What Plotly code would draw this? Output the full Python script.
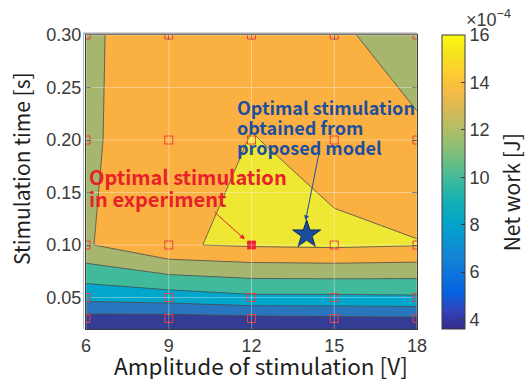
import plotly.graph_objects as go

# ---------------- data ----------------
amplitude_V = [6, 9, 12, 15, 18]
stim_time_s = [0.02, 0.03, 0.05, 0.10, 0.20, 0.30]
# net work (x1e-4 J), rows = stim_time_s, cols = amplitude_V
net_work = [
    [4.30, 4.50, 4.70, 4.80, 4.90],
    [5.27, 5.24, 5.50, 5.60, 5.74],
    [8.62, 9.00, 9.60, 9.60, 9.70],
    [13.80, 15.86, 16.20, 16.34, 16.09],
    [13.87, 14.50, 16.07, 15.37, 14.57],
    [13.82, 14.60, 15.20, 14.55, 12.50],
]
exp_amp = [6, 9, 12, 15, 18]
exp_time = [0.03, 0.05, 0.10, 0.20, 0.30]
opt_exp = (12, 0.10)
opt_model = (14, 0.11)

x_ticks = [6, 9, 12, 15, 18]
y_ticks = [0.05, 0.10, 0.15, 0.20, 0.25, 0.30]
y_ticktext = ["0.05", "0.10", "0.15", "0.20", "0.25", "0.30"]
cbar_ticks = [4, 6, 8, 10, 12, 14, 16]
levels = dict(start=4, end=16, size=2)
cmin, cmax = 3.6, 16

blue_lines = ["Optimal stimulation", "obtained from", "proposed model"]
red_lines = ["Optimal stimulation", "in experiment"]

band_colors = ["#343D95", "#343D95", "#2A76BE", "#00A6CB", "#40BA9B",
               "#A6B66F", "#FBB142", "#EEE734"]

parula = [
    (0.2081, 0.1663, 0.5292), (0.1959, 0.2645, 0.7279), (0.0117, 0.3875, 0.8820),
    (0.0498, 0.4586, 0.8641), (0.0793, 0.5200, 0.8312), (0.0343, 0.5966, 0.8199),
    (0.0228, 0.6535, 0.7768), (0.0843, 0.6928, 0.7062), (0.2178, 0.7250, 0.6193),
    (0.3953, 0.7459, 0.5244), (0.5709, 0.7485, 0.4494), (0.7184, 0.7411, 0.3905),
    (0.8507, 0.7299, 0.3360), (0.9739, 0.7314, 0.2666), (0.9880, 0.8066, 0.1794),
    (0.9589, 0.8949, 0.1132), (0.9763, 0.9831, 0.0538),
]
parula_cs = [[i / (len(parula) - 1),
              "rgb(%d,%d,%d)" % tuple(int(round(c * 255)) for c in p)]
             for i, p in enumerate(parula)]

n = len(band_colors) - 1
band_cs = [[i / n, c] for i, c in enumerate(band_colors)]

FONT = "Noto Sans CJK JP"
TICKFONT = "Liberation Sans, Arial, sans-serif"
TXT = "#1e1e1e"
TICKC = "#3a3a3a"
AX = "#3c3c3c"
BLUE = "#1F4E9E"
RED = "#E8202A"

# plot area in page pixels
PL, PR, PT, PB = 86, 417.5, 35, 329
W_PAGE, H_PAGE = 525, 379


def px(xp):
    return (xp - PL) / (PR - PL)


def py(yp):
    return (PB - yp) / (PB - PT)


fig = go.Figure()
fig.add_trace(go.Contour(
    x=amplitude_V, y=stim_time_s, z=net_work,
    autocontour=False, contours=dict(coloring="fill", **levels),
    colorscale=band_cs, showscale=False,
    line=dict(color="#4a4a4a", width=0.8, smoothing=0), hoverinfo="skip",
))
fig.add_trace(go.Scatter(
    x=[a for a in exp_amp for _ in exp_time],
    y=[t for _ in exp_amp for t in exp_time],
    mode="markers",
    marker=dict(symbol="square-open", size=8, color="#EE3B3B",
                line=dict(width=1)),
    hoverinfo="skip", showlegend=False,
))
fig.add_trace(go.Scatter(
    x=[opt_exp[0]], y=[opt_exp[1]], mode="markers",
    marker=dict(symbol="square", size=8, color=RED),
    showlegend=False, hoverinfo="skip",
))
fig.add_trace(go.Scatter(
    x=[opt_model[0]], y=[opt_model[1]], mode="markers",
    marker=dict(symbol="star", size=21, color="#1B4B9B",
                line=dict(color="#0E2A5C", width=1)),
    showlegend=False, hoverinfo="skip",
))
# colorbar (continuous parula)
fig.add_trace(go.Scatter(
    x=[opt_exp[0]], y=[opt_exp[1]], mode="markers",
    marker=dict(size=0.1, opacity=0, color=[10], colorscale=parula_cs,
                cmin=cmin, cmax=cmax, showscale=True,
                colorbar=dict(
                    x=px(443), xanchor="left", y=0.5, yanchor="middle",
                    len=1, lenmode="fraction", thickness=23,
                    outlinecolor=AX, outlinewidth=1,
                    tickvals=cbar_ticks, ticks="inside", ticklen=4,
                    tickcolor=AX, tickfont=dict(family=TICKFONT, size=18, color=TICKC),
                    xpad=0, ypad=0,
                )),
    showlegend=False, hoverinfo="skip",
))

# light grid lines over the filled contours
shapes = []
for xv in x_ticks:
    shapes.append(dict(type="line", xref="x", yref="paper", x0=xv, x1=xv,
                       y0=0, y1=1, layer="above",
                       line=dict(color="rgba(255,255,255,0.35)", width=1)))
for yv in y_ticks:
    shapes.append(dict(type="line", xref="paper", yref="y", x0=0, x1=1,
                       y0=yv, y1=yv, layer="above",
                       line=dict(color="rgba(255,255,255,0.35)", width=1)))
# light outer frame (top / left) as in the reference
shapes.append(dict(type="line", xref="paper", yref="paper", x0=px(83), x1=1,
                   y0=py(33.5), y1=py(33.5), layer="above",
                   line=dict(color="#A8A8A8", width=2)))
shapes.append(dict(type="line", xref="paper", yref="paper", x0=px(83.5), x1=px(83.5),
                   y0=0, y1=py(33.5), layer="above",
                   line=dict(color="#B8B8B8", width=1)))

axis_common = dict(showline=True, linecolor=AX, linewidth=1, mirror="ticks",
                   ticks="inside", ticklen=5, tickcolor=AX, showgrid=False,
                   zeroline=False,
                   tickfont=dict(family=TICKFONT, size=18, color=TICKC))

annotations = [
    dict(text="Amplitude of stimulation [V]", xref="paper", yref="paper",
         x=px(261), y=py(365), showarrow=False, xanchor="center", yanchor="middle",
         font=dict(family=FONT, size=22.5, color=TXT)),
    dict(text="Stimulation time [s]", xref="paper", yref="paper",
         x=px(21), y=py(169), showarrow=False, textangle=-90,
         xanchor="center", yanchor="middle",
         font=dict(family=FONT, size=21, color=TXT)),
    dict(text="Net work [J]", xref="paper", yref="paper",
         x=px(511.5), y=py(192.5), showarrow=False, textangle=-90,
         xanchor="center", yanchor="middle",
         font=dict(family=FONT, size=21, color=TXT)),
    dict(text="×10<sup>−4</sup>", xref="paper", yref="paper",
         x=px(465), y=py(18), showarrow=False, xanchor="left", yanchor="middle",
         font=dict(family=TICKFONT, size=18, color=TICKC)),
    # arrows
    dict(text="", x=11.76, y=0.1054, ax=10.60, ay=0.1327, axref="x", ayref="y",
         xref="x", yref="y", showarrow=True, arrowhead=2, arrowsize=1,
         arrowwidth=1, arrowcolor=RED),
    dict(text="", x=13.96, y=0.1235, ax=14.45, ay=0.1876, axref="x", ayref="y",
         xref="x", yref="y", showarrow=True, arrowhead=2, arrowsize=1,
         arrowwidth=1, arrowcolor=BLUE),
]
for i, line in enumerate(blue_lines):
    annotations.append(dict(
        text="<b>%s</b>" % line, xref="paper", yref="paper",
        x=px(235.5), y=py(106.7 + 20 * i), showarrow=False,
        xanchor="left", yanchor="middle", align="left",
        font=dict(family=FONT, size=18, color=BLUE)))
for i, line in enumerate(red_lines):
    annotations.append(dict(
        text="<b>%s</b>" % line, xref="paper", yref="paper",
        x=px(87), y=py(176 + 22 * i), showarrow=False,
        xanchor="left", yanchor="middle", align="left",
        font=dict(family=FONT, size=20, color=RED)))

fig.update_layout(
    width=W_PAGE, height=H_PAGE, autosize=False,
    margin=dict(l=PL, r=W_PAGE - PR, t=PT, b=H_PAGE - PB, pad=0),
    paper_bgcolor="white", plot_bgcolor="white",
    xaxis=dict(range=[6, 18], tickvals=x_ticks, **axis_common),
    yaxis=dict(range=[0.02, 0.30], tickvals=y_ticks, ticktext=y_ticktext,
               **axis_common),
    shapes=shapes, annotations=annotations, showlegend=False,
)

fig.write_html(
    "out.html",
    config={"displayModeBar": False},
    post_script="document.body.style.margin='0';document.body.style.overflow='hidden';",
)
